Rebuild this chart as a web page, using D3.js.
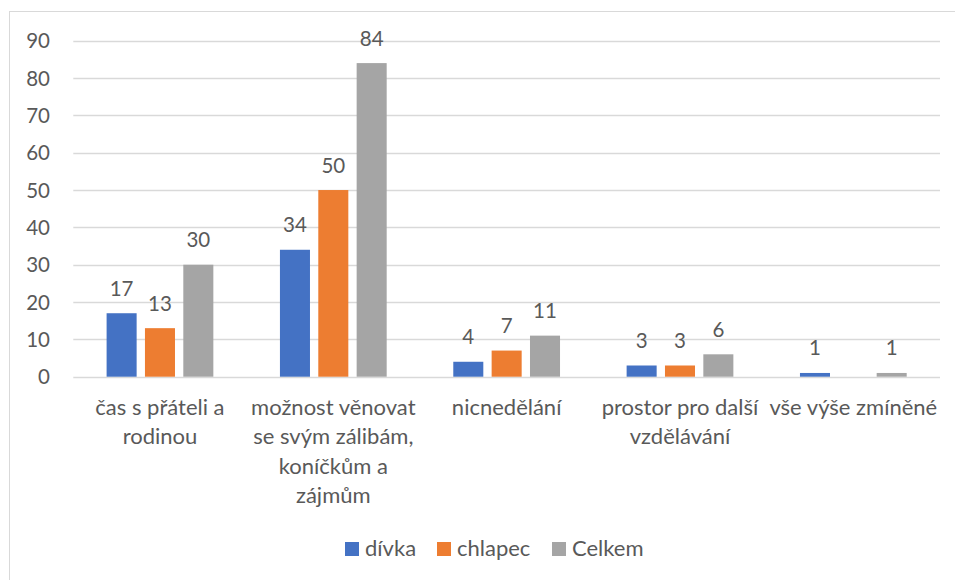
<!DOCTYPE html>
<html>
<head>
<meta charset="utf-8">
<script src="https://cdn.jsdelivr.net/npm/d3@7"></script>
<style>
  html, body { margin: 0; padding: 0; background: #fff; }
  svg { display: block; }
  text { font-family: Lato, "Open Sans", sans-serif; fill: #595959; }
</style>
</head>
<body>
<svg id="chart" width="955" height="580"></svg>
<script>
// ---- data ----
const categories = [
  "čas s přáteli a\nrodinou",
  "možnost věnovat\nse svým zálibám,\nkoníčkům a\nzájmům",
  "nicnedělání",
  "prostor pro další\nvzdělávání",
  "vše výše zmíněné"
];
const seriesNames = ["dívka", "chlapec", "Celkem"];
const divka   = [17, 34, 4, 3, 1];
const chlapec = [13, 50, 7, 3, null];
const celkem  = [30, 84, 11, 6, 1];
const colors = ["#4472C4", "#ED7D31", "#A5A5A5"];
const yTicks = [0, 10, 20, 30, 40, 50, 60, 70, 80, 90];

const seriesValues = [divka, chlapec, celkem];
const rows = categories.map((c, i) => ({
  cat: c,
  vals: seriesNames.map((s, j) => ({ s, v: seriesValues[j][i], j }))
}));

// ---- layout ----
const svg = d3.select("#chart");
const plotLeft = 73.3, plotRight = 940, plotTop = 40.7, plotBottom = 376.7;

// outer frame
svg.append("rect").attr("x", 9.5).attr("y", 11.5).attr("width", 960).attr("height", 600)
  .attr("fill", "none").attr("stroke", "#D9D9D9").attr("stroke-width", 1);

const x0 = d3.scaleBand().domain(categories).range([plotLeft, plotRight]).padding(0);
const groupPad = 33.3;
const x1 = d3.scaleBand().domain(seriesNames)
  .range([groupPad, x0.bandwidth() - groupPad]).paddingInner(0.217).paddingOuter(0);
const y = d3.scaleLinear().domain([0, 90]).range([plotBottom, plotTop]);

// gridlines
svg.append("g").selectAll("line").data(yTicks).join("line")
  .attr("x1", plotLeft).attr("x2", plotRight)
  .attr("y1", d => Math.round(y(d)) + 0.5).attr("y2", d => Math.round(y(d)) + 0.5)
  .attr("stroke", "#D9D9D9").attr("stroke-width", 1.3);

// y axis labels
const yAxis = d3.axisLeft(y).tickValues(yTicks).tickSize(0).tickPadding(0);
const yg = svg.append("g").attr("transform", `translate(50,0)`).call(yAxis);
yg.select(".domain").remove();
yg.selectAll("text").style("font-size", "20.5px").style("font-family", "Lato, sans-serif")
  .attr("fill", "#595959").attr("dy", "0.35em");

// bars
const groups = svg.append("g").selectAll("g").data(rows).join("g")
  .attr("transform", d => `translate(${x0(d.cat)},0)`);
groups.selectAll("rect").data(d => d.vals.filter(v => v.v != null)).join("rect")
  .attr("x", d => x1(d.s)).attr("width", x1.bandwidth())
  .attr("y", d => y(d.v)).attr("height", d => y(0) - y(d.v))
  .attr("fill", d => colors[d.j]);

// data labels
groups.selectAll("text.lbl").data(d => d.vals.filter(v => v.v != null)).join("text")
  .attr("class", "lbl")
  .attr("x", d => x1(d.s) + x1.bandwidth() / 2)
  .attr("y", d => y(d.v) - 17.5)
  .attr("text-anchor", "middle").style("font-size", "20.5px")
  .text(d => d.v);

// x axis category labels
const xg = svg.append("g");
categories.forEach(c => {
  const t = xg.append("text").attr("text-anchor", "middle").style("font-size", "22px")
    .attr("x", x0(c) + x0.bandwidth() / 2);
  c.split("\n").forEach((line, k) => {
    t.append("tspan").attr("x", x0(c) + x0.bandwidth() / 2)
      .attr("y", 415 + k * 29.4).text(line);
  });
});

// legend
const legendX = [345, 437, 552];
const lg = svg.append("g");
seriesNames.forEach((s, j) => {
  lg.append("rect").attr("x", legendX[j]).attr("y", 542).attr("width", 14).attr("height", 14)
    .attr("fill", colors[j]);
  lg.append("text").attr("x", legendX[j] + 20).attr("y", 556).style("font-size", "22px").text(s);
});
</script>
</body>
</html>
